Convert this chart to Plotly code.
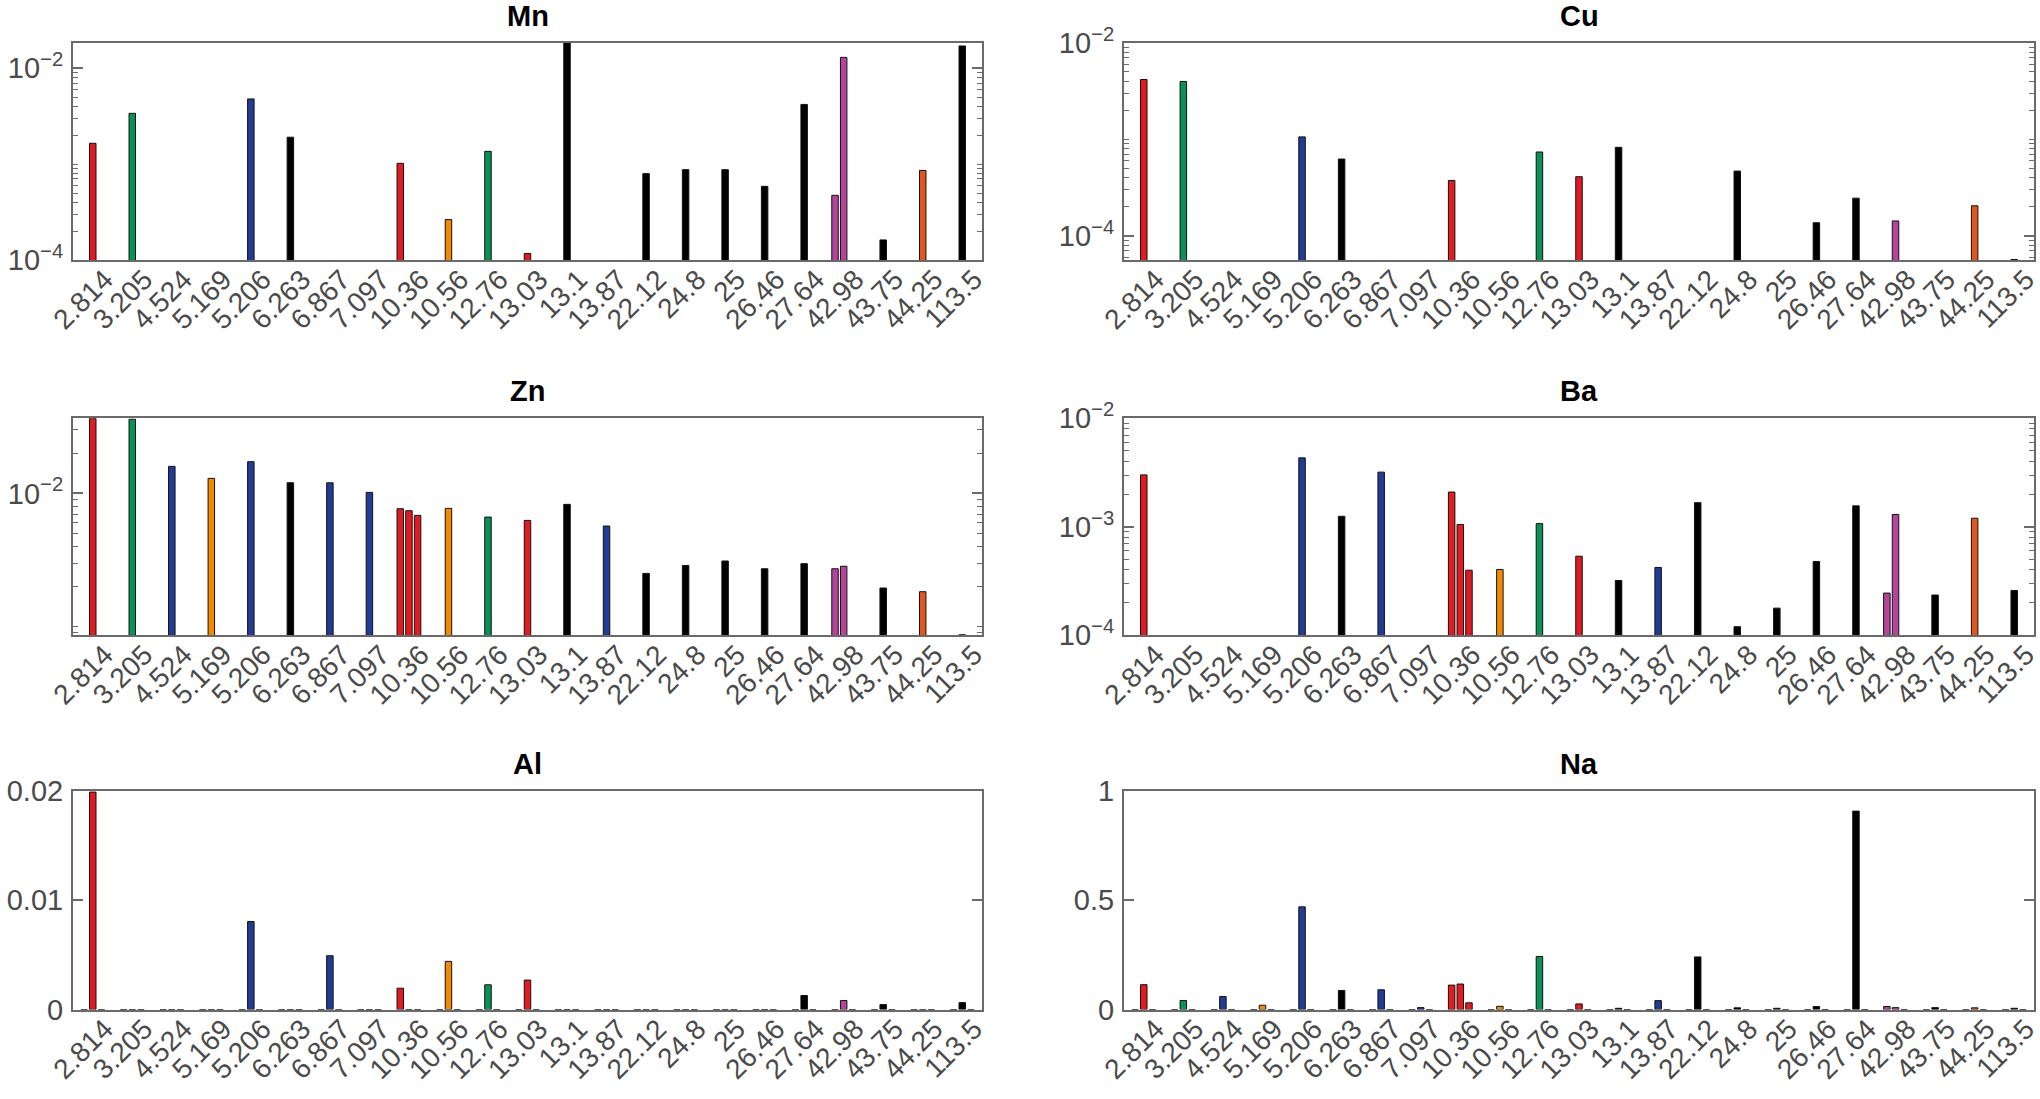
import plotly.graph_objects as go

# ---------------- data ----------------
CATEGORIES = ["2.814", "3.205", "4.524", "5.169", "5.206", "6.263", "6.867", "7.097",
              "10.36", "10.56", "12.76", "13.03", "13.1", "13.87", "22.12", "24.8",
              "25", "26.46", "27.64", "42.98", "43.75", "44.25", "113.5"]

N = None
# centre bars of each group
MN_MID = [1.65e-3, 3.39e-3, N, N, 4.79e-3, 1.91e-3, N, N, N, 2.64e-4, 1.36e-3, 1.17e-4,
          1.85e-2, N, 7.96e-4, 8.76e-4, 8.76e-4, 5.87e-4, 4.2e-3, 1.30e-2, 1.62e-4, 8.6e-4, 1.71e-2]
MN_LEFT = [N, N, N, N, N, N, N, N, 1.02e-3, N, N, N, N, N, N, N, N, N, N, 4.73e-4, N, N, N]
MN_RIGHT = [N] * 23

CU_MID = [4.16e-3, 3.97e-3, N, N, 1.06e-3, 6.25e-4, N, N, N, N, 7.39e-4, 4.1e-4,
          8.26e-4, N, N, 4.69e-4, N, 1.37e-4, 2.46e-4, 1.43e-4, N, 2.05e-4, 5.7e-5]
CU_LEFT = [N, N, N, N, N, N, N, N, 3.75e-4, N, N, N, N, N, N, N, N, N, N, N, N, N, N]
CU_RIGHT = [N] * 23

ZN_MID = [0.0365, 0.0360, 0.01594, 0.01296, 0.01728, 0.01202, 0.0120, 0.01017, 7.41e-3,
          7.72e-3, 6.64e-3, 6.27e-3, 8.27e-3, 5.69e-3, 2.51e-3, 2.88e-3, 3.11e-3, 2.72e-3,
          2.97e-3, 2.84e-3, 1.95e-3, 1.83e-3, 8.7e-4]
ZN_LEFT = [N, N, N, N, N, N, N, N, 7.67e-3, N, N, N, N, N, N, N, N, N, N, 2.72e-3, N, N, N]
ZN_RIGHT = [N, N, N, N, N, N, N, N, 6.84e-3, N, N, N, N, N, N, N, N, N, N, N, N, N, N]

BA_MID = [3.01e-3, N, N, N, 4.32e-3, 1.25e-3, 3.19e-3, N, 1.05e-3, 4.04e-4, 1.07e-3, 5.36e-4,
          3.2e-4, 4.22e-4, 1.67e-3, 1.2e-4, 1.78e-4, 4.79e-4, 1.56e-3, 1.30e-3, 2.35e-4, 1.2e-3, 2.59e-4]
BA_LEFT = [N, N, N, N, N, N, N, N, 2.09e-3, N, N, N, N, N, N, N, N, N, N, 2.45e-4, N, N, N]
BA_RIGHT = [N, N, N, N, N, N, N, N, 3.98e-4, N, N, N, N, N, N, N, N, N, N, N, N, N, N]

AL_MID = [0.0199, 0, 0, 0, 0.00806, 0, 0.00493, 0, 0, 0.00441, 0.00227, 0.0027, 0, 0, 0, 0,
          0, 0, 0.00129, 0.00083, 0.00046, 0, 0.00064]
AL_LEFT = [0, 0, 0, 0, 0, 0, 0, 0, 0.00196, 0, 0, 0, 0, 0, 0, 0, 0, 0, 0, 0, 0, 0, 0]
AL_RIGHT = [0] * 23

NA_MID = [0.114, 0.0415, 0.060, 0.020, 0.470, 0.0876, 0.0906, 0.009, 0.117, 0.015, 0.243, 0.026,
          0.006, 0.041, 0.241, 0.008, 0.006, 0.014, 0.908, 0.009, 0.009, 0.008, 0.006]
NA_LEFT = [0, 0, 0, 0, 0, 0, 0, 0, 0.112, 0, 0, 0, 0, 0, 0, 0, 0, 0, 0, 0.014, 0, 0, 0]
NA_RIGHT = [0, 0, 0, 0, 0, 0, 0, 0, 0.031, 0, 0, 0, 0, 0, 0, 0, 0, 0, 0, 0, 0, 0, 0]

# ---------------- style ----------------
RED, GREEN, BLUE, ORANGE = "#e11b22", "#0a9156", "#223c94", "#f18a00"
BLACK, MAGENTA, ORANGERED = "#000000", "#b5449b", "#e0561c"
COLORS = [RED, GREEN, BLUE, ORANGE, BLUE, BLACK, BLUE, BLUE, RED, ORANGE, GREEN, RED, BLACK,
          BLUE, BLACK, BLACK, BLACK, BLACK, BLACK, MAGENTA, BLACK, ORANGERED, BLACK]

W, H = 2040, 1099
ROW_TOP = [42.7, 418.3, 791.0]
ROW_BOT = [260.0, 635.3, 1009.6]
COL_L = [73.0, 1124.0]
COL_R = [982.0, 2034.0]

FONT = "Liberation Sans, Arial, Helvetica, sans-serif"
TICKCOL = "#4a4a4a"
AXCOL = "#6a6a6a"

SLOT = 0.219
BARW = 0.164


def sup(e):
    return "10<sup>\u2212%d</sup>" % abs(e)


def minor_vals(lo, hi, majors):
    out = []
    for e in range(lo, hi + 1):
        for m in range(1, 10):
            v = m * 10.0 ** e
            if not any(abs(v - t) < 1e-12 for t in majors):
                out.append(v)
    return out


PANELS = [
    dict(name="Mn", left=MN_LEFT, mid=MN_MID, right=MN_RIGHT, log=True, rng=[-4, -1.733],
         tv=[1e-4, 1e-2], tt=[sup(-4), sup(-2)], row=0, col=0),
    dict(name="Cu", left=CU_LEFT, mid=CU_MID, right=CU_RIGHT, log=True, rng=[-4.249, -2],
         tv=[1e-4, 1e-2], tt=[sup(-4), sup(-2)], row=0, col=1),
    dict(name="Zn", left=ZN_LEFT, mid=ZN_MID, right=ZN_RIGHT, log=True, rng=[-3.0645, -1.437],
         tv=[1e-2], tt=[sup(-2)], row=1, col=0),
    dict(name="Ba", left=BA_LEFT, mid=BA_MID, right=BA_RIGHT, log=True, rng=[-4, -2],
         tv=[1e-4, 1e-3, 1e-2], tt=[sup(-4), sup(-3), sup(-2)], row=1, col=1),
    dict(name="Al", left=AL_LEFT, mid=AL_MID, right=AL_RIGHT, log=False, rng=[0, 0.02],
         tv=[0, 0.01, 0.02], tt=["0", "0.01", "0.02"], row=2, col=0),
    dict(name="Na", left=NA_LEFT, mid=NA_MID, right=NA_RIGHT, log=False, rng=[0, 1],
         tv=[0, 0.5, 1], tt=["0", "0.5", "1"], row=2, col=1),
]

fig = go.Figure()
layout = {}
annotations = []

for i, p in enumerate(PANELS, start=1):
    xa = "x" if i == 1 else "x%d" % i
    ya = "y" if i == 1 else "y%d" % i
    for vals, k in ((p["left"], -1), (p["mid"], 0), (p["right"], 1)):
        fig.add_trace(go.Bar(
            x=CATEGORIES, y=vals, xaxis=xa, yaxis=ya,
            width=BARW, offset=k * SLOT - BARW / 2,
            marker=dict(color=COLORS, line=dict(color="#111111", width=1)),
            showlegend=False, hoverinfo="skip"))

    x0 = COL_L[p["col"]] / W
    x1 = COL_R[p["col"]] / W
    y1 = 1 - ROW_TOP[p["row"]] / H
    y0 = 1 - ROW_BOT[p["row"]] / H

    layout["xaxis" if i == 1 else "xaxis%d" % i] = dict(
        domain=[x0, x1], anchor=ya, type="category", range=[-0.5, 22.5],
        tickmode="array", tickvals=CATEGORIES, ticktext=CATEGORIES, tickangle=-45,
        ticks="", showgrid=False, zeroline=False, showline=True, mirror=True,
        linecolor=AXCOL, linewidth=2, automargin=False,
        ticklabelstandoff=-10, ticklabelshift=12,
        tickfont=dict(family=FONT, size=28, color=TICKCOL), fixedrange=True)

    yax = dict(
        domain=[y0, y1], anchor=xa, range=p["rng"], tickmode="array",
        tickvals=p["tv"], ticktext=p["tt"], ticks="inside", ticklen=10, tickwidth=1.5,
        tickcolor=AXCOL, showgrid=False, zeroline=False, showline=True, mirror="ticks",
        linecolor=AXCOL, linewidth=2, automargin=False, ticklabelstandoff=2,
        tickfont=dict(family=FONT, size=29, color=TICKCOL), fixedrange=True)
    if p["log"]:
        yax["type"] = "log"
        yax["minor"] = dict(ticks="inside", ticklen=5, tickwidth=1, tickcolor=AXCOL,
                            tickmode="array", tickvals=minor_vals(-5, -1, p["tv"]),
                            showgrid=False)
    layout["yaxis" if i == 1 else "yaxis%d" % i] = yax

    annotations.append(dict(
        text="<b>%s</b>" % p["name"], xref="paper", yref="paper",
        x=(x0 + x1) / 2, y=1 - (ROW_TOP[p["row"]] - 27) / H,
        xanchor="center", yanchor="middle", showarrow=False,
        font=dict(family=FONT, size=29, color="#000000")))

fig.update_layout(
    width=W, height=H, margin=dict(l=0, r=0, t=0, b=0, autoexpand=False),
    paper_bgcolor="white", plot_bgcolor="white", barmode="overlay",
    annotations=annotations, **layout)

fig.write_html("out.html", config={"displayModeBar": False},
               post_script="document.body.style.margin='0';")
